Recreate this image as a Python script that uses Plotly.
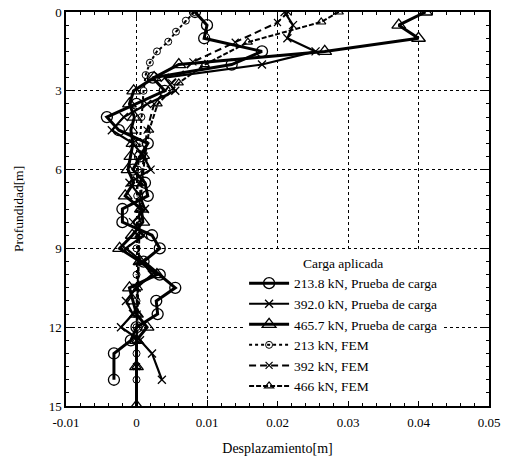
import plotly.graph_objects as go

# Field test (Prueba de carga)
d_213 = [0, 0.5, 1.0, 1.5, 2.0, 2.5, 3.0, 3.5, 4.0, 4.5, 5.0, 5.5, 6.0, 6.5, 7.0, 7.5, 8.0, 8.5,
         9.0, 9.5, 10.0, 10.5, 11.0, 11.5, 12.0, 12.5, 13.0, 14.0]
x_213 = [0.0083, 0.0100, 0.0096, 0.0178, 0.0135, 0.0023, 0.0040, 0.0000, -0.0042, -0.0025, 0.0016,
         0.0005, -0.0005, 0.0012, 0.0016, -0.0020, -0.0020, 0.0022, 0.0033, 0.0010, 0.0033, 0.0055,
         0.0028, 0.0030, 0.0000, -0.0008, -0.0032, -0.0032]

d_392 = [0, 0.5, 1.0, 1.5, 2.0, 2.5, 3.0, 3.5, 4.0, 4.5, 5.0, 5.5, 6.0, 6.5, 7.0, 7.5, 8.0, 8.5,
         9.0, 9.5, 10.0, 10.5, 11.0, 11.5, 12.0, 12.5, 13.0, 14.0]
x_392 = [0.0210, 0.0222, 0.0214, 0.0254, 0.0178, 0.0040, 0.0055, 0.0015, -0.0018, -0.0035, -0.0005,
         0.0010, 0.0020, -0.0010, 0.0005, 0.0012, -0.0005, 0.0010, -0.0015, 0.0008, 0.0022, 0.0000,
         -0.0015, -0.0005, -0.0022, 0.0005, 0.0022, 0.0036]

d_466 = [0, 0.5, 1.0, 1.5, 2.0, 2.5, 3.0, 3.5, 4.0, 4.5, 5.0, 5.5, 6.0, 6.5, 7.0, 7.5, 8.0, 8.5,
         9.0, 9.5, 10.0, 10.5, 11.0, 11.5, 12.0, 12.5, 13.5, 15.0]
x_466 = [0.0410, 0.0372, 0.0400, 0.0267, 0.0060, 0.0025, -0.0004, -0.0010, -0.0003, -0.0008, -0.0005,
         -0.0008, -0.0012, -0.0004, -0.0016, 0.0007, 0.0009, -0.0006, -0.0024, 0.0005, 0.0029, -0.0010,
         -0.0005, 0.0000, 0.0015, 0.0000, 0.0000, 0.0000]

# FEM
d_fem213 = [0, 0.33, 0.75, 1.13, 1.5, 1.93, 2.4, 3.0, 4.0, 5.0, 6.0, 7.0, 8.0, 9.0, 10.0, 11.0, 12.0, 13.0, 14.0]
x_fem213 = [0.0082, 0.0070, 0.0056, 0.0045, 0.0029, 0.0019, 0.0013, 0.0010, 0.0007, 0.0004, 0.0002,
            0.0001, 0.0001, 0.0000, 0.0000, 0.0000, 0.0000, 0.0000, 0.0000]

d_fem392 = [0, 0.4, 1.15, 1.9, 2.7, 3.5, 4.5, 5.5, 6.5, 7.5, 8.5, 9.5, 10.5, 11.5, 12.5, 13.5]
x_fem392 = [0.0215, 0.0200, 0.0140, 0.0080, 0.0050, 0.0025, 0.0015, 0.0010, 0.0006, 0.0004, 0.0003,
            0.0002, 0.0001, 0.0001, 0.0000, 0.0000]

d_fem466 = [0, 0.38, 1.15, 2.0, 2.7, 3.5, 4.5, 5.5, 6.5, 7.5, 8.5, 9.5, 10.5, 11.5, 12.5, 13.5]
x_fem466 = [0.0287, 0.0262, 0.0158, 0.0097, 0.0060, 0.0030, 0.0018, 0.0012, 0.0008, 0.0005, 0.0004,
            0.0003, 0.0002, 0.0001, 0.0000, 0.0000]

x_ticks = [-0.01, 0, 0.01, 0.02, 0.03, 0.04, 0.05]
x_tick_text = ["-0.01", "0", "0.01", "0.02", "0.03", "0.04", "0.05"]
y_ticks = [0, 3, 6, 9, 12, 15]

FONT = "Liberation Serif"
fig = go.Figure()

fig.add_trace(go.Scatter(x=x_213, y=d_213, mode="lines+markers", name="213.8 kN, Prueba de carga",
                         line=dict(color="black", width=3),
                         marker=dict(symbol="circle-open", size=11, color="black", line=dict(width=1.3))))
fig.add_trace(go.Scatter(x=x_392, y=d_392, mode="lines+markers", name="392.0 kN, Prueba de carga",
                         line=dict(color="black", width=2.2),
                         marker=dict(symbol="x-thin-open", size=8, color="black", line=dict(width=1.3))))
fig.add_trace(go.Scatter(x=x_466, y=d_466, mode="lines+markers", name="465.7 kN, Prueba de carga",
                         line=dict(color="black", width=3),
                         marker=dict(symbol="triangle-up-open", size=12, color="black", line=dict(width=1.3))))
fig.add_trace(go.Scatter(x=x_fem213, y=d_fem213, mode="lines+markers", name="213 kN, FEM",
                         line=dict(color="black", width=2, dash="3px,3px"),
                         marker=dict(symbol="circle-open-dot", size=7, color="black", line=dict(width=1))))
fig.add_trace(go.Scatter(x=x_fem392, y=d_fem392, mode="lines+markers", name="392 kN, FEM",
                         line=dict(color="black", width=2, dash="7px,4px"),
                         marker=dict(symbol="x-thin-open", size=7, color="black", line=dict(width=1.2))))
fig.add_trace(go.Scatter(x=x_fem466, y=d_fem466, mode="lines+markers", name="466 kN, FEM",
                         line=dict(color="black", width=2, dash="5px,2px"),
                         marker=dict(symbol="triangle-up-open", size=8, color="black", line=dict(width=1.2))))

axis_common = dict(
    showline=True, linecolor="black", linewidth=1.5, mirror="ticks",
    ticks="inside", ticklen=6, tickwidth=1, tickcolor="black",
    showgrid=True, gridcolor="black", gridwidth=1, griddash="dot",
    zeroline=False, automargin=False,
    tickfont=dict(family=FONT, size=13, color="black"),
)

fig.update_xaxes(range=[-0.01, 0.05], tickvals=x_ticks, ticktext=x_tick_text, ticklabelstandoff=4,
                 minor=dict(dtick=0.002, ticks="inside", ticklen=3, tickcolor="black", showgrid=False),
                 title=dict(text="Desplazamiento[m]", font=dict(family=FONT, size=14, color="black"), standoff=14),
                 **axis_common)
fig.update_yaxes(range=[15, 0], tickvals=y_ticks,
                 minor=dict(dtick=0.5, ticks="inside", ticklen=3, tickcolor="black", showgrid=False),
                 title=dict(text="Profundidad[m]", font=dict(family=FONT, size=13.5, color="black"), standoff=22),
                 **axis_common)

fig.update_layout(
    width=505, height=457,
    margin=dict(l=66, r=16, t=12, b=51),
    plot_bgcolor="white", paper_bgcolor="white",
    font=dict(family=FONT, size=13, color="black"),
    legend=dict(x=0.421, y=0.395, xanchor="left", yanchor="top",
                bgcolor="white", borderwidth=0,
                title=dict(text="Carga aplicada", side="top center", font=dict(family=FONT, size=13.5)),
                font=dict(family=FONT, size=13.5, color="black"),
                tracegroupgap=0, itemwidth=40),
)

fig.write_html("out.html")
